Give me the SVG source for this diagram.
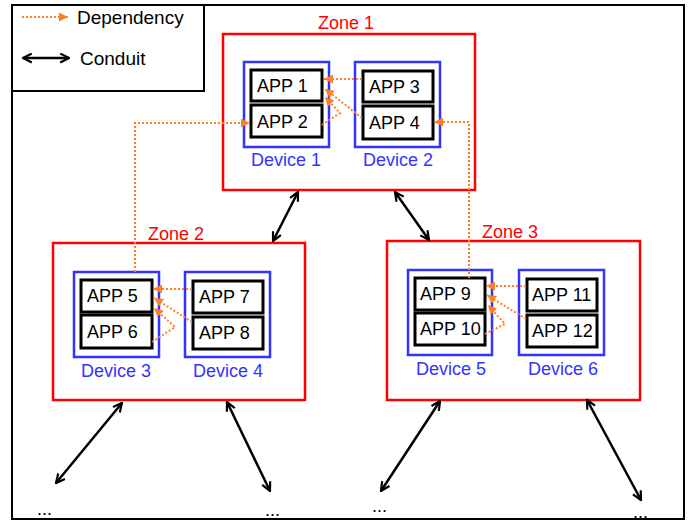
<svg xmlns="http://www.w3.org/2000/svg" width="688" height="522" viewBox="0 0 688 522">
<defs>
<style>
.zone{fill:none;stroke:#ff0000;stroke-width:2.5}
.dev{fill:none;stroke:#3333ff;stroke-width:2.5}
.app{fill:#fff;stroke:#000;stroke-width:3}
.t{font-family:"Liberation Sans",Arial,sans-serif;font-size:18px;fill:#000}
.zl{font-family:"Liberation Sans",Arial,sans-serif;font-size:18px;fill:#ff0000}
.dl{font-family:"Liberation Sans",Arial,sans-serif;font-size:18px;fill:#3333ff;text-anchor:middle}
.lg{font-family:"Liberation Sans",Arial,sans-serif;font-size:19px;fill:#000}
.dep{fill:none;stroke:#ff7f27;stroke-width:2;stroke-dasharray:2,2;marker-end:url(#dh)}
.con{fill:none;stroke:#000;stroke-width:2.5;marker-start:url(#ch);marker-end:url(#ch)}
</style>
<marker id="dh" viewBox="0 0 10 10" refX="10" refY="5" markerWidth="9" markerHeight="9" markerUnits="userSpaceOnUse" orient="auto"><path d="M0,0 L10,5 L0,10 z" fill="#ff7f27"/></marker>
<marker id="ch" viewBox="0 0 10 10" refX="9" refY="5" markerWidth="11" markerHeight="11" markerUnits="userSpaceOnUse" orient="auto-start-reverse"><path d="M1,1 L9,5 L1,9" fill="none" stroke="#000" stroke-width="2"/></marker>
</defs>
<rect x="12" y="5" width="672" height="514" fill="#fff" stroke="#000" stroke-width="2"/>
<g id="legend">
<rect x="12" y="5" width="192" height="86" fill="#fff" stroke="#000" stroke-width="2"/>
<line x1="22" y1="17" x2="68" y2="17" class="dep"/>
<text x="77" y="24" class="lg">Dependency</text>
<line x1="23" y1="58" x2="69" y2="58" class="con"/>
<text x="80" y="65" class="lg">Conduit</text>
</g>
<g id="zone1">
<rect x="223" y="34" width="252" height="156" class="zone"/>
<text x="318" y="29" class="zl">Zone 1</text>
</g>
<g id="zone2">
<rect x="53" y="243" width="252" height="157" class="zone"/>
<text x="148" y="240" class="zl">Zone 2</text>
</g>
<g id="zone3">
<rect x="387" y="241" width="253" height="159" class="zone"/>
<text x="482" y="238" class="zl">Zone 3</text>
</g>
<g id="device1"><rect x="244" y="62" width="85" height="85" class="dev"/><text x="286" y="166" class="dl">Device 1</text></g>
<g id="device2"><rect x="355" y="62" width="85" height="85" class="dev"/><text x="398" y="166" class="dl">Device 2</text></g>
<g id="device3"><rect x="74" y="272" width="85" height="85" class="dev"/><text x="116" y="377" class="dl">Device 3</text></g>
<g id="device4"><rect x="185" y="272" width="85" height="85" class="dev"/><text x="228" y="377" class="dl">Device 4</text></g>
<g id="device5"><rect x="408" y="270" width="84" height="85" class="dev"/><text x="451" y="375" class="dl">Device 5</text></g>
<g id="device6"><rect x="519" y="270" width="85" height="85" class="dev"/><text x="563" y="375" class="dl">Device 6</text></g>
<g id="app1"><rect x="251" y="70" width="71" height="31" class="app"/><text x="257" y="92" class="t">APP 1</text></g>
<g id="app2"><rect x="251" y="105" width="71" height="32" class="app"/><text x="257" y="128" class="t">APP 2</text></g>
<g id="app3"><rect x="363" y="71" width="70" height="31" class="app"/><text x="369" y="93" class="t">APP 3</text></g>
<g id="app4"><rect x="363" y="106" width="70" height="33" class="app"/><text x="369" y="129" class="t">APP 4</text></g>
<g id="app5"><rect x="81" y="280" width="71" height="32" class="app"/><text x="87" y="302" class="t">APP 5</text></g>
<g id="app6"><rect x="81" y="315" width="71" height="33" class="app"/><text x="87" y="338" class="t">APP 6</text></g>
<g id="app7"><rect x="193" y="281" width="70" height="32" class="app"/><text x="199" y="303" class="t">APP 7</text></g>
<g id="app8"><rect x="193" y="317" width="70" height="32" class="app"/><text x="199" y="339" class="t">APP 8</text></g>
<g id="app9"><rect x="415" y="278" width="70" height="32" class="app"/><text x="420" y="300" class="t">APP 9</text></g>
<g id="app10"><rect x="415" y="313" width="70" height="32" class="app"/><text x="420" y="335" class="t">APP 10</text></g>
<g id="app11"><rect x="527" y="279" width="70" height="32" class="app"/><text x="532" y="301" class="t">APP 11</text></g>
<g id="app12"><rect x="527" y="315" width="70" height="32" class="app"/><text x="532" y="337" class="t">APP 12</text></g>
<g id="connectors">
<line x1="362" y1="79" x2="324" y2="79" class="dep"/>
<line x1="362" y1="118" x2="325" y2="89" class="dep"/>
<polyline points="322,125 340,113 325,97" class="dep"/>
<line x1="192" y1="289" x2="153" y2="289" class="dep"/>
<line x1="192" y1="322" x2="154" y2="298" class="dep"/>
<polyline points="152,342 175,327 154,308" class="dep"/>
<line x1="526" y1="286" x2="486" y2="286" class="dep"/>
<line x1="526" y1="319" x2="487" y2="295" class="dep"/>
<polyline points="485,334 505,324 488,305" class="dep"/>
<polyline points="135,272 135,123 250,123" class="dep"/>
<polyline points="469,278 469,122 434,122" class="dep"/>
<line x1="298" y1="192" x2="273" y2="241" class="con"/>
<line x1="395" y1="192" x2="429" y2="240" class="con"/>
<line x1="122" y1="403" x2="56" y2="483" class="con"/>
<line x1="227" y1="402" x2="270" y2="491" class="con"/>
<line x1="440" y1="401" x2="381" y2="491" class="con"/>
<line x1="587" y1="400" x2="641" y2="500" class="con"/>
</g>
<g id="ellipses">
<text x="37" y="515" class="t" font-size="16">...</text>
<text x="265" y="516" class="t" font-size="16">...</text>
<text x="372" y="512" class="t" font-size="16">...</text>
<text x="633" y="518" class="t" font-size="16">...</text>
</g>
</svg>
